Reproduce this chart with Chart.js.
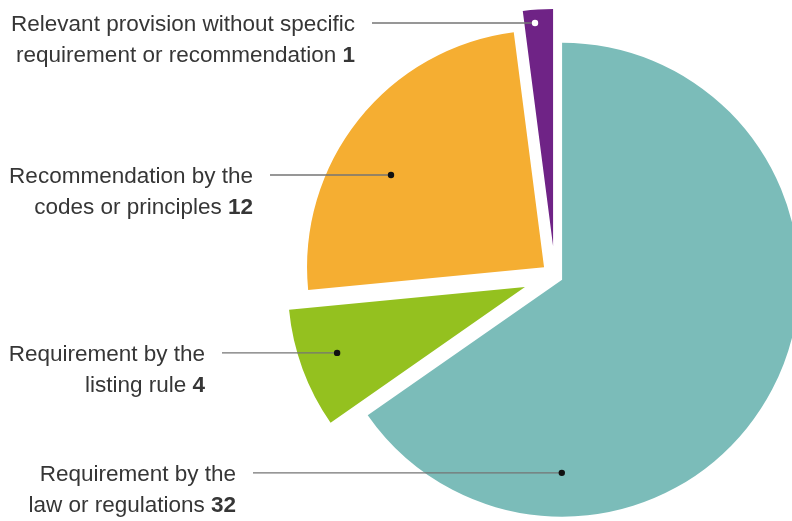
<!DOCTYPE html>
<html>
<head>
<meta charset="utf-8">
<script src="https://cdn.jsdelivr.net/npm/chart.js@4.4.1/dist/chart.umd.min.js"></script>
<style>
  html, body { margin: 0; padding: 0; background: #ffffff; }
  #wrap { width: 792px; height: 521px; position: relative; }
</style>
</head>
<body>
<div id="wrap"><canvas id="chart"></canvas></div>
<script>
// Categories (two text lines each) and their counts, clockwise from 12 o'clock
const categories = [
  ['Requirement by the', 'law or regulations'],
  ['Requirement by the', 'listing rule'],
  ['Recommendation by the', 'codes or principles'],
  ['Relevant provision without specific', 'requirement or recommendation']
];
const counts = [32, 4, 12, 1];

// Styling
const sliceColors = ['#7bbcb9', '#94c11f', '#f5ae32', '#6f2386'];
const explode = [8, 32, 14, 30];                  // px each slice is pulled out along its bisector
const anchorAt = [[0.766, 0.815], [0.53, 0.84], [0.415, 0.754], [0.37, 0.944]]; // dot: share of sweep, share of radius
const labelRight = [236, 205, 253, 355];          // right edge of each text block
const dotFill = ['#111111', '#111111', '#111111', '#ffffff'];
const FONT = '"Liberation Sans", Arial, sans-serif';
const FONT_SIZE = 22.5;

// Pull each slice out along its own bisector, keeping its full sweep and radius
const explodeSlices = {
  id: 'explodeSlices',
  afterDatasetUpdate(chart, args) {
    args.meta.data.forEach((arc, i) => {
      const h = (arc.startAngle + arc.endAngle) / 2;
      arc.x += Math.cos(h) * explode[i];
      arc.y += Math.sin(h) * explode[i];
    });
  }
};

// Leader lines, dots and the two-line labels on the left
const callouts = {
  id: 'callouts',
  afterDatasetsDraw(chart) {
    const ctx = chart.ctx;
    const meta = chart.getDatasetMeta(0);
    meta.data.forEach((arc, i) => {
      const [fa, fr] = anchorAt[i];
      const a = arc.startAngle + (arc.endAngle - arc.startAngle) * fa;
      const px = arc.x + Math.cos(a) * arc.outerRadius * fr;
      const py = arc.y + Math.sin(a) * arc.outerRadius * fr;
      const x = labelRight[i];

      ctx.save();
      ctx.strokeStyle = '#747474';
      ctx.lineWidth = 1.4;
      ctx.beginPath();
      ctx.moveTo(x + 17, py);
      ctx.lineTo(px, py);
      ctx.stroke();

      ctx.fillStyle = dotFill[i];
      ctx.beginPath();
      ctx.arc(px, py, 3.2, 0, Math.PI * 2);
      ctx.fill();

      const [l1, l2] = categories[i];
      ctx.textAlign = 'right';
      ctx.textBaseline = 'alphabetic';
      ctx.fillStyle = '#363636';
      ctx.font = FONT_SIZE + 'px ' + FONT;
      ctx.fillText(l1, x, py + 8);
      ctx.font = 'bold ' + FONT_SIZE + 'px ' + FONT;
      const num = String(counts[i]);
      ctx.fillText(num, x, py + 39);
      const nw = ctx.measureText(num).width;
      ctx.font = FONT_SIZE + 'px ' + FONT;
      ctx.fillText(l2 + ' ', x - nw, py + 39);
      ctx.restore();
    });
  }
};

new Chart(document.getElementById('chart'), {
  type: 'pie',
  data: {
    labels: categories.map(c => c.join(' ')),
    datasets: [{
      data: counts,
      backgroundColor: sliceColors,
      borderWidth: 0,
      radius: 237,
      clip: false
    }]
  },
  options: {
    responsive: true,
    maintainAspectRatio: false,
    animation: false,
    events: [],
    layout: { padding: { left: 318, top: 31, right: 0, bottom: 0 } },
    plugins: { legend: { display: false }, tooltip: { enabled: false } }
  },
  plugins: [explodeSlices, callouts]
});
</script>
</body>
</html>
